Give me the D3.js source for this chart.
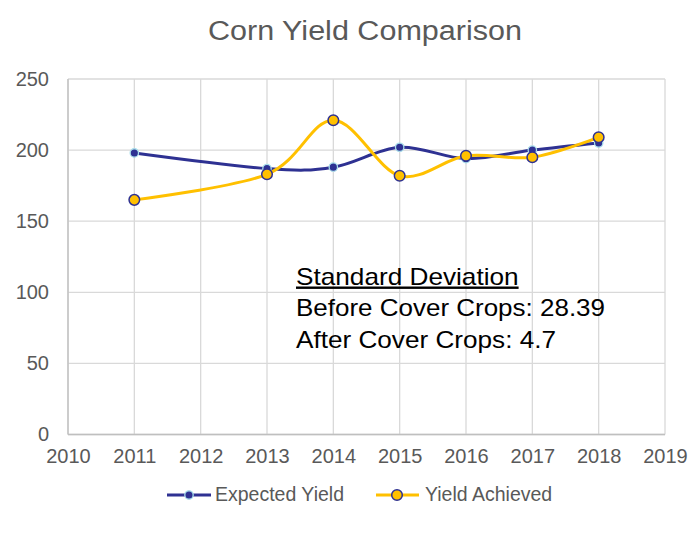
<!DOCTYPE html>
<html><head><meta charset="utf-8">
<script src="https://cdn.jsdelivr.net/npm/d3@7"></script>
<style>body{margin:0;background:#fff}svg{display:block;font-family:"Liberation Sans",Arial,sans-serif}</style>
</head><body><svg id="c" width="700" height="538"></svg>
<script>
const years = [2011, 2013, 2014, 2015, 2016, 2017, 2018];
const expectedYield = [198, 187, 188, 202, 194, 200, 205];
const yieldAchieved = [165, 183, 221, 182, 196, 195, 209];
const xTicks = [2010, 2011, 2012, 2013, 2014, 2015, 2016, 2017, 2018, 2019];
const yTicks = [0, 50, 100, 150, 200, 250];
const annotation = ["Standard Deviation", "Before Cover Crops: 28.39", "After Cover Crops: 4.7"];

const svg = d3.select("#c");
const x = d3.scaleLinear().domain([2010, 2019]).range([68, 665]);
const y = d3.scaleLinear().domain([0, 250]).range([434.5, 79]);
const grid = "#d9d9d9", txt = "#595959";

svg.append("text").attr("x", 208).attr("y", 39.5)
  .attr("font-size", 27).attr("fill", txt)
  .attr("textLength", 314).attr("lengthAdjust", "spacingAndGlyphs")
  .text("Corn Yield Comparison");

// gridlines
svg.append("g").selectAll("line").data(yTicks).join("line")
  .attr("x1", x(2010)).attr("x2", x(2019)).attr("y1", d => y(d)).attr("y2", d => y(d))
  .attr("stroke", grid).attr("stroke-width", 1.3);
svg.append("g").selectAll("line").data(xTicks).join("line")
  .attr("x1", d => x(d)).attr("x2", d => x(d)).attr("y1", y(0)).attr("y2", y(250))
  .attr("stroke", grid).attr("stroke-width", 1.3);
svg.append("line").attr("x1", x(2010)).attr("x2", x(2010)).attr("y1", y(0)).attr("y2", y(250)).attr("stroke", "#bfbfbf").attr("stroke-width", 1.3);
svg.append("line").attr("x1", x(2010)).attr("x2", x(2019)).attr("y1", y(0)).attr("y2", y(0)).attr("stroke", "#bfbfbf").attr("stroke-width", 1.3);

// axes
const ya = svg.append("g").attr("transform", `translate(${x(2010)},0)`)
  .call(d3.axisLeft(y).tickValues(yTicks).tickSize(0).tickPadding(19));
ya.select(".domain").remove();
ya.selectAll("text").attr("font-size", 20).attr("fill", txt).attr("font-family", "Liberation Sans, Arial, sans-serif");
const xa = svg.append("g").attr("transform", `translate(0,${y(0)})`)
  .call(d3.axisBottom(x).tickValues(xTicks).tickFormat(d3.format("d")).tickSize(0).tickPadding(14));
xa.select(".domain").remove();
xa.selectAll("text").attr("font-size", 20).attr("fill", txt).attr("font-family", "Liberation Sans, Arial, sans-serif");

const navy = "#2E3192", gold = "#FFC000";
const line = d3.line().x(d => x(d[0])).y(d => y(d[1])).curve(d3.curveCatmullRom.alpha(0));
const eData = years.map((yr, i) => [yr, expectedYield[i]]);
const aData = years.map((yr, i) => [yr, yieldAchieved[i]]);

svg.append("path").datum(eData).attr("d", line).attr("fill", "none").attr("stroke", navy).attr("stroke-width", 3);
svg.append("g").selectAll("circle").data(eData).join("circle")
  .attr("cx", d => x(d[0])).attr("cy", d => y(d[1])).attr("r", 4.2)
  .attr("fill", navy).attr("stroke", "#A8DDEA").attr("stroke-width", 1.3);

svg.append("path").datum(aData).attr("d", line).attr("fill", "none").attr("stroke", gold).attr("stroke-width", 3);
svg.append("g").selectAll("circle").data(aData).join("circle")
  .attr("cx", d => x(d[0])).attr("cy", d => y(d[1])).attr("r", 5.3)
  .attr("fill", gold).attr("stroke", navy).attr("stroke-width", 1.5);

// annotation
const annW = [222.6, 309, 260];
const annY = [284.5, 316, 347.5];
const ann = svg.append("g").attr("font-size", 24).attr("fill", "#000");
annotation.forEach((t, i) => {
  ann.append("text").attr("x", 296).attr("y", annY[i]).text(t)
    .attr("textLength", annW[i]).attr("lengthAdjust", "spacingAndGlyphs")
    .attr("text-decoration", i === 0 ? "underline" : null);
});

// legend
const lg = svg.append("g");
lg.append("line").attr("x1", 167).attr("x2", 211).attr("y1", 495).attr("y2", 495).attr("stroke", navy).attr("stroke-width", 3);
lg.append("circle").attr("cx", 189).attr("cy", 495).attr("r", 4.2).attr("fill", navy).attr("stroke", "#A8DDEA").attr("stroke-width", 1.3);
lg.append("text").attr("x", 215).attr("y", 500.5).attr("font-size", 19.5).attr("fill", txt).text("Expected Yield");
lg.append("line").attr("x1", 376).attr("x2", 419).attr("y1", 495).attr("y2", 495).attr("stroke", gold).attr("stroke-width", 3);
lg.append("circle").attr("cx", 397).attr("cy", 495).attr("r", 5.3).attr("fill", gold).attr("stroke", navy).attr("stroke-width", 1.5);
lg.append("text").attr("x", 425).attr("y", 500.5).attr("font-size", 19.5).attr("fill", txt).text("Yield Achieved");
</script></body></html>
